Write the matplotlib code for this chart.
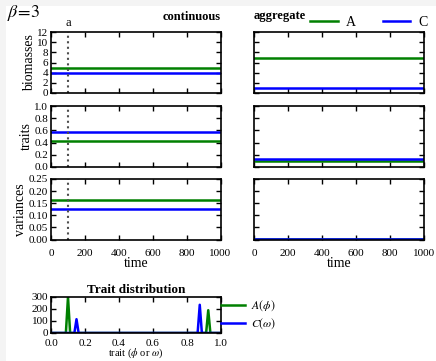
import numpy as np
import matplotlib
matplotlib.use("Agg")
import matplotlib.pyplot as plt
from matplotlib.patches import Rectangle

plt.rcParams['font.family'] = ['Liberation Serif', 'DejaVu Serif']
plt.rcParams['mathtext.fontset'] = 'stix'
plt.rcParams['xtick.direction'] = 'in'
plt.rcParams['ytick.direction'] = 'in'
plt.rcParams['xtick.top'] = True
plt.rcParams['ytick.right'] = True

# time axis (steady state, constant series)
time = [0, 250, 500, 750, 1000]
t_mark = 100

# continuous model
cont_biomass_A = [4.85] * 5
cont_biomass_C = [4.0] * 5
cont_trait_A = [0.42] * 5
cont_trait_C = [0.58] * 5
cont_var_A = [0.164] * 5
cont_var_C = [0.128] * 5

# aggregate model
agg_biomass_A = [6.95] * 5
agg_biomass_C = [1.0] * 5
agg_trait_A = [0.105] * 5
agg_trait_C = [0.125] * 5
agg_var_A = [0.001] * 5
agg_var_C = [0.001] * 5

# trait distribution
dist_x_A = [0.0, 0.0875, 0.1, 0.1125, 0.9125, 0.925, 0.9375, 1.0]
dist_y_A = [0, 0, 300, 0, 0, 190, 0, 0]
dist_x_C = [0.0, 0.1375, 0.15, 0.1625, 0.8625, 0.875, 0.8875, 1.0]
dist_y_C = [0, 0, 115, 0, 0, 235, 0, 0]

W, H = 436, 361
fig = plt.figure(figsize=(W / 100, H / 100), dpi=100)
fig.patch.set_facecolor('#f4f4f4')
fig.patches.append(Rectangle((6 / W, 0), 1, 1 - 6 / H, transform=fig.transFigure,
                             facecolor='white', edgecolor='none', zorder=-10))


def box(x1, y1, x2, y2):
    return [x1 / W, 1 - y2 / H, (x2 - x1) / W, (y2 - y1) / H]


rows = [(32, 93), (106, 167), (179, 239.5)]
cols = [(51, 220.5), (254, 424)]

ylims = [(0, 12), (0, 1.0), (0, 0.25)]
yticks = [np.arange(0, 13, 2), np.arange(0, 1.01, 0.2), np.arange(0, 0.251, 0.05)]
yfmt = ['%d', '%.1f', '%.2f']
ylabels = ['biomasses', 'traits', 'variances']
cont = [(cont_biomass_A, cont_biomass_C), (cont_trait_A, cont_trait_C), (cont_var_A, cont_var_C)]
agg = [(agg_biomass_A, agg_biomass_C), (agg_trait_A, agg_trait_C), (agg_var_A, agg_var_C)]

for i, (y1, y2) in enumerate(rows):
    for j, (x1, x2) in enumerate(cols):
        ax = fig.add_axes(box(x1, y1, x2, y2))
        sA, sC = (cont if j == 0 else agg)[i]
        lA, = ax.plot(time, sA, color='g', lw=1.8, label='A')
        lC, = ax.plot(time, sC, color='b', lw=1.8, label='C')
        ax.set_xlim(0, 1000)
        ax.set_ylim(*ylims[i])
        ax.set_xticks(np.arange(0, 1001, 200))
        ax.set_yticks(yticks[i])
        ax.tick_params(labelsize=8, length=3.5, width=1)
        ax.tick_params(axis='y', pad=2)
        ax.tick_params(axis='x', pad=7)
        for s in ax.spines.values():
            s.set_linewidth(1.2)
        if j == 0:
            ax.set_yticklabels([yfmt[i] % v for v in yticks[i]])
            ax.set_ylabel(ylabels[i], fontsize=10, labelpad=1)
            ax.axvline(t_mark, color='0.3', ls=':', lw=1.5)
        else:
            ax.set_yticklabels([])
        if i < 2:
            ax.set_xticklabels([])
        else:
            ax.set_xlabel('time', fontsize=10, labelpad=-1)
        if i == 0 and j == 0:
            ax.set_title('continuous', loc='right', fontsize=9, fontweight='bold', pad=9)
            ax.text(t_mark, 12.5, 'a', ha='center', va='bottom', fontsize=9)
        if i == 0 and j == 1:
            ax.set_title('aggregate', loc='left', fontsize=9, fontweight='bold', pad=9)
            fig.legend(handles=[lA, lC], loc='center left', bbox_to_anchor=(310 / W, 1 - 22 / H),
                       ncol=2, frameon=False, fontsize=10, handlelength=2.0,
                       columnspacing=1.9, handletextpad=0.6, borderaxespad=0, borderpad=0)

fig.text(7 / W, 1 - 17 / H, r'$\beta\!=\!3$', fontsize=13, va='baseline')

axd = fig.add_axes(box(51, 297, 221, 333))
dA, = axd.plot(dist_x_A, dist_y_A, color='g', lw=1.8, label=r'$A(\phi)$')
dC, = axd.plot(dist_x_C, dist_y_C, color='b', lw=1.8, label=r'$C(\omega)$')
axd.plot([0, 1], [0, 0], color='#000080', lw=2.2)
axd.set_xlim(0, 1)
axd.set_ylim(0, 300)
axd.set_yticks([0, 100, 200, 300])
axd.set_xticks(np.arange(0, 1.01, 0.2))
axd.set_xticklabels(['%.1f' % v for v in np.arange(0, 1.01, 0.2)])
axd.tick_params(labelsize=8, length=3.5, width=1)
axd.tick_params(axis='y', pad=2)
axd.tick_params(axis='x', pad=4)
for s in axd.spines.values():
    s.set_linewidth(1.2)
axd.set_title('Trait distribution', fontsize=9.5, fontweight='bold', pad=3)
axd.set_xlabel(r'trait ($\phi$ or $\omega$)', fontsize=7.5, labelpad=-1)
axd.legend(handles=[dA, dC], loc='center left', bbox_to_anchor=(1.0, 0.5), frameon=False,
           fontsize=8.5, handlelength=2.0, handletextpad=0.5, borderaxespad=0, borderpad=0,
           labelspacing=0.3)

fig.savefig('out.png', dpi=100)
